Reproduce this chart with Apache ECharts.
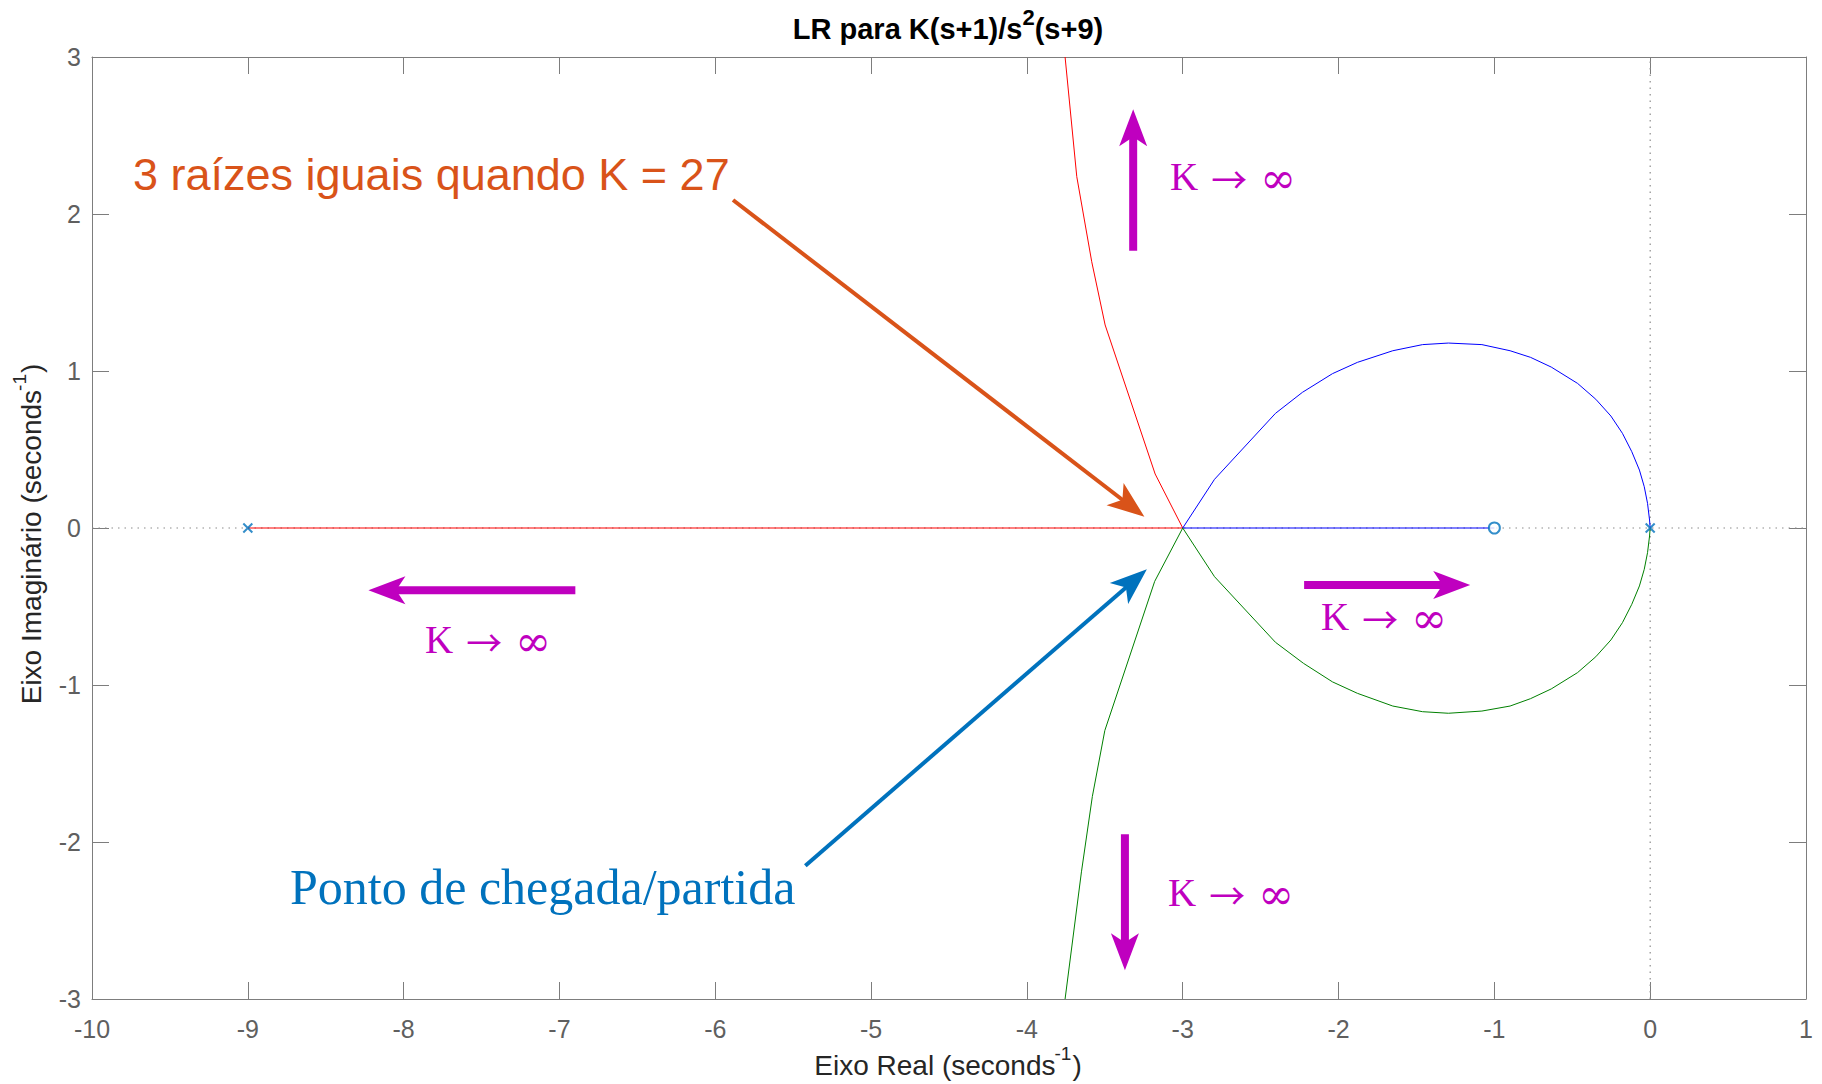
<!DOCTYPE html>
<html>
<head>
<meta charset="utf-8">
<script src="https://cdn.jsdelivr.net/npm/echarts@6/dist/echarts.min.js"></script>
<style>
  html, body { margin: 0; padding: 0; background: #ffffff; }
  #chart { width: 1822px; height: 1084px; }
</style>
</head>
<body>
<div id="chart"></div>
<script>
// Root locus of K(s+1)/(s^2(s+9)) -- branches as [real, imaginary] pairs
const branchRed = [
  [-9, 0], [-3, 0], [-3.177, 0.344], [-3.498, 1.293], [-3.584, 1.696],
  [-3.68, 2.238], [-3.755, 3.0]
];
const branchBlue = [
  [0, 0], [-0.004, 0.051], [-0.017, 0.157], [-0.038, 0.263], [-0.069, 0.369],
  [-0.118, 0.486], [-0.178, 0.603], [-0.252, 0.713], [-0.349, 0.82], [-0.466, 0.921],
  [-0.635, 1.025], [-0.768, 1.087], [-0.899, 1.129], [-1.08, 1.168], [-1.295, 1.178],
  [-1.461, 1.168], [-1.652, 1.129], [-1.879, 1.055], [-2.039, 0.983], [-2.232, 0.864],
  [-2.405, 0.73], [-2.796, 0.31], [-3, 0], [-1, 0]
];
const branchGreen = [
  [0, 0], [-0.004, -0.051], [-0.017, -0.157], [-0.038, -0.263], [-0.069, -0.369],
  [-0.118, -0.486], [-0.178, -0.603], [-0.252, -0.713], [-0.349, -0.82], [-0.466, -0.921],
  [-0.635, -1.025], [-0.768, -1.087], [-0.899, -1.134], [-1.08, -1.166], [-1.295, -1.18],
  [-1.461, -1.17], [-1.652, -1.134], [-1.879, -1.053], [-2.039, -0.98], [-2.225, -0.862],
  [-2.405, -0.728], [-2.796, -0.31], [-3, 0], [-3.18, -0.34], [-3.5, -1.29],
  [-3.58, -1.71], [-3.65, -2.19], [-3.755, -3.0]
];
const openLoopPoles = [[-9, 0], [0, 0]];
const openLoopZeros = [[-1, 0]];

// Reference axes through the origin
const realAxisLine = [[-10, 0], [1, 0]];
const imagAxisLine = [[0, -3], [0, 3]];

// Annotation arrows: [fromReal, fromImag, toReal, toImag]
const arrowTripleRoot = [[-5.886, 2.089, -3.246, 0.072]];
const arrowBreakPoint = [[-5.422, -2.151, -3.230, -0.263]];
const arrowsKInfinity = [
  [-3.318, 1.766, -3.318, 2.667],
  [-6.898, -0.397, -8.226, -0.397],
  [-2.221, -0.363, -1.155, -0.363],
  [-3.371, -1.951, -3.371, -2.817]
];

const SANS = '"Liberation Sans", Arial, Helvetica, sans-serif';
const SERIF = '"Liberation Serif", "Times New Roman", serif';
const AXIS_GREY = '#7d7d7d';
const TICK_TEXT = '#5f5f5f';
const LABEL_TEXT = '#262626';
const MAGENTA = '#BF00BF';

// Text measuring, used to lay out superscripts and mixed-font labels
const measureCtx = document.createElement('canvas').getContext('2d');
function textWidth(str, font) {
  measureCtx.font = font;
  return measureCtx.measureText(str).width;
}

// A row of text pieces laid out left to right; each piece may be shifted vertically
function textRow(parts, x, y, anchor, rotation) {
  let cursor = 0;
  const children = [];
  parts.forEach(function (p) {
    cursor += p.gap || 0;
    children.push({
      type: 'text',
      x: cursor,
      y: p.dy || 0,
      style: { text: p.text, font: p.font, fill: p.fill, align: 'left', verticalAlign: 'middle' }
    });
    cursor += textWidth(p.text, p.font);
  });
  if (anchor === 'center') {
    children.forEach(function (c) { c.x -= cursor / 2; });
  }
  return { type: 'group', x: x, y: y, rotation: rotation || 0, z: 20, silent: true, children: children };
}

function kLabel(x, y) {
  return textRow([
    { text: 'K', font: '39px ' + SERIF, fill: MAGENTA },
    { text: '\u2192', font: '36px "Noto Sans CJK JP", "DejaVu Sans", sans-serif', fill: MAGENTA, gap: 13, dy: 2 },
    { text: '\u221E', font: '43px "DejaVu Serif", serif', fill: MAGENTA, gap: 13, dy: 2 }
  ], x, y, 'left');
}

function arrowSeries(data, color, shaftWidth) {
  return {
    type: 'custom',
    data: data,
    encode: { x: [0, 2], y: [1, 3] },
    clip: false,
    silent: true,
    z: 6,
    renderItem: function (params, api) {
      const a = api.coord([api.value(0), api.value(1)]);
      const b = api.coord([api.value(2), api.value(3)]);
      const dx = b[0] - a[0], dy = b[1] - a[1];
      const len = Math.hypot(dx, dy);
      const ux = dx / len, uy = dy / len, nx = -uy, ny = ux;
      const headL = 37, headW = 14, notch = headL * 0.75;
      const base = [b[0] - ux * headL, b[1] - uy * headL];
      const notchP = [b[0] - ux * notch, b[1] - uy * notch];
      return {
        type: 'group',
        children: [
          {
            type: 'line',
            shape: { x1: a[0], y1: a[1], x2: notchP[0] + ux * 2, y2: notchP[1] + uy * 2 },
            style: { stroke: color, lineWidth: shaftWidth, lineCap: 'butt' }
          },
          {
            type: 'polygon',
            shape: { points: [b, [base[0] + nx * headW, base[1] + ny * headW], notchP, [base[0] - nx * headW, base[1] - ny * headW]] },
            style: { fill: color }
          }
        ]
      };
    }
  };
}

function branchSeries(data, color) {
  return {
    type: 'line',
    data: data,
    showSymbol: false,
    symbol: 'none',
    lineStyle: { color: color, width: 1 },
    clip: true,
    z: 3,
    silent: true
  };
}

const chart = echarts.init(document.getElementById('chart'), null, { renderer: 'svg' });

const axisCommon = {
  type: 'value',
  splitLine: { show: false },
  axisLine: { show: true, onZero: false, lineStyle: { color: AXIS_GREY, width: 1 } },
  axisTick: { show: true, inside: true, length: 17, lineStyle: { color: AXIS_GREY, width: 1 } }
};

const labelFont = '28px ' + SANS;
const supFont = '19px ' + SANS;

chart.setOption({
  animation: false,
  backgroundColor: '#ffffff',
  grid: { left: 92, right: 16, top: 57, bottom: 85, containLabel: false, outerBoundsMode: 'none' },
  xAxis: [
    Object.assign({}, axisCommon, {
      min: -10, max: 1, interval: 1, position: 'bottom',
      axisLabel: { show: true, margin: 17, color: TICK_TEXT, fontSize: 25, fontFamily: SANS }
    }),
    Object.assign({}, axisCommon, {
      min: -10, max: 1, interval: 1, position: 'top',
      axisLabel: { show: false }
    })
  ],
  yAxis: [
    Object.assign({}, axisCommon, {
      min: -3, max: 3, interval: 1, position: 'left',
      axisLabel: { show: true, margin: 11, color: TICK_TEXT, fontSize: 25, fontFamily: SANS }
    }),
    Object.assign({}, axisCommon, {
      min: -3, max: 3, interval: 1, position: 'right',
      axisLabel: { show: false }
    })
  ],
  graphic: [
    // title
    textRow([
      { text: 'LR para K(s+1)/s', font: 'bold 29px ' + SANS, fill: '#000000' },
      { text: '2', font: 'bold 22px ' + SANS, fill: '#000000', dy: -11.8 },
      { text: '(s+9)', font: 'bold 29px ' + SANS, fill: '#000000' }
    ], 948, 29.3, 'center'),
    // x axis title
    textRow([
      { text: 'Eixo Real (seconds', font: labelFont, fill: LABEL_TEXT },
      { text: '-1', font: supFont, fill: LABEL_TEXT, dy: -12, gap: -1 },
      { text: ')', font: labelFont, fill: LABEL_TEXT, gap: 1 }
    ], 948, 1065.5, 'center'),
    // y axis title
    textRow([
      { text: 'Eixo Imagin\u00E1rio (seconds', font: labelFont, fill: LABEL_TEXT },
      { text: '-1', font: supFont, fill: LABEL_TEXT, dy: -12, gap: -1 },
      { text: ')', font: labelFont, fill: LABEL_TEXT, gap: 1 }
    ], 31.5, 534, 'center', Math.PI / 2),
    {
      type: 'text',
      x: 133, y: 174,
      z: 20,
      silent: true,
      style: {
        text: '3 ra\u00EDzes iguais quando K = 27',
        fill: '#D95319',
        font: '45px ' + SANS,
        align: 'left',
        verticalAlign: 'middle'
      }
    },
    {
      type: 'text',
      x: 290, y: 887,
      z: 20,
      silent: true,
      style: {
        text: 'Ponto de chegada/partida',
        fill: '#0072BD',
        font: '50px ' + SERIF,
        align: 'left',
        verticalAlign: 'middle'
      }
    },
    kLabel(1170, 176),
    kLabel(425, 639),
    kLabel(1321, 616),
    kLabel(1168, 892)
  ],
  series: [
    {
      type: 'line', data: realAxisLine, showSymbol: false, symbol: 'none', silent: true, z: 1,
      lineStyle: { color: '#8c8c8c', width: 1.2, type: [1.5, 5] }
    },
    {
      type: 'line', data: imagAxisLine, showSymbol: false, symbol: 'none', silent: true, z: 1,
      lineStyle: { color: '#8c8c8c', width: 1.2, type: [1.5, 5] }
    },
    branchSeries(branchRed, '#FF0000'),
    branchSeries(branchBlue, '#0000FF'),
    branchSeries(branchGreen, '#008000'),
    {
      type: 'scatter',
      data: openLoopPoles,
      symbol: 'path://M0,0L10,10M10,0L0,10',
      symbolSize: 9,
      silent: true,
      z: 8,
      itemStyle: { color: 'none', borderColor: '#0072BD', borderWidth: 2 }
    },
    {
      type: 'scatter',
      data: openLoopZeros,
      symbol: 'circle',
      symbolSize: 11,
      silent: true,
      z: 8,
      itemStyle: { color: '#ffffff', borderColor: '#0072BD', borderWidth: 2 }
    },
    arrowSeries(arrowTripleRoot, '#D95319', 4),
    arrowSeries(arrowBreakPoint, '#0072BD', 4),
    arrowSeries(arrowsKInfinity, MAGENTA, 8)
  ]
});
</script>
</body>
</html>
